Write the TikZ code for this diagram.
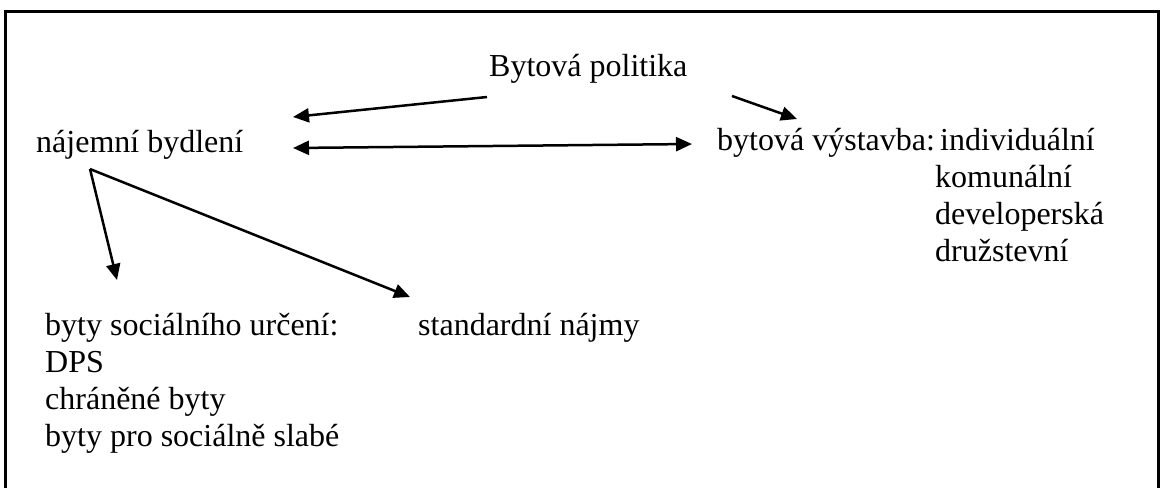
\documentclass[tikz,border=0pt]{standalone}
\usepackage{fontspec}
\setmainfont{Liberation Serif}
\usetikzlibrary{arrows.meta}
\begin{document}
\begin{tikzpicture}[x=1pt,y=-1pt,
  lbl/.style={anchor=base west,inner sep=0pt,font=\fontsize{32}{37}\selectfont},
  conn/.style={line width=2.5pt,-{Triangle[length=16pt,width=14pt]}},
  dconn/.style={line width=2.5pt,{Triangle[length=16pt,width=14pt]}-{Triangle[length=16pt,width=14pt]}},
  frame/.style={line width=3pt}]
\useasboundingbox (0,0) rectangle (1160,488);
\fill[white] (0,0) rectangle (1160,488);
% frame
\draw[frame] (5.5,488) -- (5.5,11) -- (1158.5,11) -- (1158.5,488);
% texts
\node[lbl] (pol) at (489,76) {Bytová politika};
\node[lbl] (naj) at (36,152) {nájemní bydlení};
\node[lbl] (vys) at (717,150) {bytová výstavba:};
\node[lbl] (ind) at (940,150) {individuální};
\node[lbl] (kom) at (935,187) {komunální};
\node[lbl] (dev) at (935,224) {developerská};
\node[lbl] (dru) at (935,261) {družstevní};
\node[lbl] (soc) at (45,335) {byty sociálního určení:};
\node[lbl] (dps) at (45,372) {DPS};
\node[lbl] (chr) at (45,409) {chráněné byty};
\node[lbl] (sla) at (45,446) {byty pro sociálně slabé};
\node[lbl] (std) at (418,335) {standardní nájmy};
% connector end points
\coordinate (p1s) at (487,97);
\coordinate (p1e) at (293,117);
\coordinate (p2s) at (732,96);
\coordinate (p2e) at (797,119);
\coordinate (ds) at (293,148);
\coordinate (de) at (692,144);
\coordinate (split) at (90,169);
\coordinate (s1e) at (117,280);
\coordinate (s2e) at (410,297);
% connectors
\draw[conn] (p1s) -- (p1e);
\draw[conn] (p2s) -- (p2e);
\draw[dconn] (ds) -- (de);
\draw[conn] (split) -- (s1e);
\draw[conn] (split) -- (s2e);
\end{tikzpicture}
\end{document}
